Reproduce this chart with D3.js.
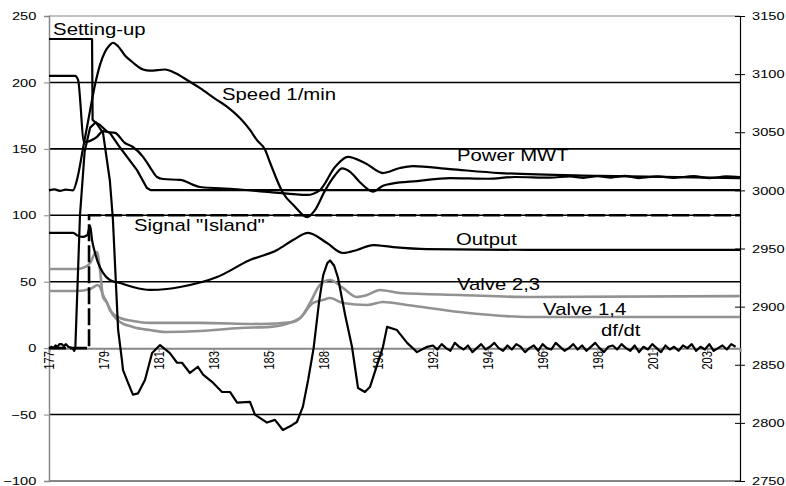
<!DOCTYPE html>
<html>
<head>
<meta charset="utf-8">
<script src="https://cdn.jsdelivr.net/npm/d3@7/dist/d3.min.js"></script>
<style>
  body { margin: 0; background: #fff; }
  svg { display: block; }
  text { font-family: "Liberation Sans", Arial, sans-serif; fill: #000; }
</style>
</head>
<body>
<svg id="chart" width="786" height="486"></svg>
<script>
// x axis is the sample number, a label every 20 samples
const xLabels = ["177", "179", "181", "183", "185", "188", "190", "192", "194", "196", "198", "201", "203"];
const leftTicks = [-100, -50, 0, 50, 100, 150, 200, 250];
const rightTicks = [2750, 2800, 2850, 2900, 2950, 3000, 3050, 3100, 3150];
const gridValues = [200, 150, 100, 50, -50];

// [sample, value] - left axis unless noted
const settingUp = [[0, 232.7], [15.7, 232.7], [15.9, 172], [16.8, 170], [18.6, 168], [21.2, 163],
  [22.2, 162], [25.9, 151], [32.1, 134], [35.7, 120.5], [37, 119], [252, 119]];

// right axis (1/min)
const speed = [[0, 3000], [2, 3000.8], [4, 2999.6], [6, 3000.6], [8.75, 3000], [10.2, 3009], [12.4, 3036],
  [15, 3069], [16.8, 3091], [18.6, 3108], [20.4, 3119], [22.2, 3125], [23.3, 3127], [25.2, 3124],
  [27.7, 3116], [30.6, 3110], [34.3, 3104], [36.8, 3103], [42.3, 3104], [46, 3101], [50.3, 3095],
  [55.1, 3088], [60.5, 3079], [64.9, 3072], [69.7, 3062], [73.3, 3052], [75.9, 3043], [78.8, 3035],
  [80.6, 3024], [85.3, 2998], [89.7, 2986], [94.1, 2977], [97, 2983], [100.7, 3000], [104.3, 3013],
  [106.9, 3019], [109.8, 3016], [113.4, 3007], [118.2, 2999], [121.8, 3004], [125.5, 3006],
  [134.2, 3008], [146.2, 3010.5], [160, 3010], [170, 3011.5], [182.7, 3011], [190, 3012],
  [195, 3010.8], [200, 3012.2], [205, 3011], [210, 3012.4], [215, 3010.6], [222, 3012], [228, 3010.8],
  [235, 3012.2], [241, 3010.6], [247, 3012], [252, 3011.5]];

const power = [[0, 205], [9.5, 205], [10.6, 202], [12.8, 155], [15, 156], [17.5, 159], [19.7, 163.4],
  [21.5, 162.7], [24.1, 162], [27.7, 154.4], [30.6, 151.4], [34.3, 144], [36.8, 136.3], [39.4, 128.8],
  [41.6, 127.3], [47.8, 126.6], [55.1, 121.3], [67.1, 119.8], [80.6, 117.5], [94.1, 115.3],
  [98.8, 119], [104.3, 136.3], [109, 144], [115.2, 139.4], [121.8, 131.8], [128, 135.6],
  [132.7, 137], [146.2, 134.8], [164.5, 131.8], [200.9, 129.6], [252, 128]];

const signalIsland = [[0, 0], [14.6, 0], [14.6, 100], [252, 100]];

const output = [[0, 86.7], [8.75, 86.7], [10.2, 85], [12, 83.7], [13.9, 85], [15, 92], [15.7, 81.4],
  [16.8, 71.6], [17.9, 64.1], [19.7, 56.6], [22.2, 51.3], [25.9, 49], [30.6, 46], [36.8, 43.8],
  [43, 44.5], [47.8, 46], [61.3, 53.5], [73.3, 66.3], [83.2, 73.9], [89, 81.4], [94.5, 86.7],
  [101.4, 79.1], [107.2, 71.6], [112.3, 73.9], [118.2, 77.6], [125.5, 76.1], [137.9, 74.6],
  [175.4, 73.9], [252, 73.9]];

const valve23 = [[0, 59.6], [10.2, 59.6], [13.1, 61], [15, 64], [16.8, 71.6], [17.5, 72.4], [18.6, 58.8],
  [19.7, 38.5], [21.2, 34], [22.2, 28.7], [25.9, 22.7], [30.6, 20.4], [36.8, 19], [55.1, 19],
  [77, 18.2], [89, 19.7], [92.6, 25], [95.2, 34], [98.8, 47.5], [102.5, 51.3], [107.2, 45.3],
  [112.3, 38.5], [116, 40], [120.7, 43.8], [128, 41.5], [149.9, 40], [175.4, 38.5], [252, 39.2]];

const valve14 = [[0, 43], [10.2, 43], [15, 44.5], [17.9, 47.5], [18.6, 46], [19.7, 40], [21.2, 34],
  [23.3, 25], [25.9, 19.7], [30.6, 16], [36.8, 13.6], [42.3, 12.2], [55.1, 12.9], [69.7, 15.2],
  [80.6, 16], [88.6, 19.7], [91.5, 22.7], [96.3, 34], [99.9, 36.2], [102.5, 37.7], [107.2, 34],
  [116, 32.5], [121.8, 34.7], [130.6, 32.5], [149.9, 27.2], [175.4, 23.4], [252, 23.4]];

const dfdt = [[0, 0], [1, 1], [1.6, 0], [2.4, 2], [3.1, 1], [3.8, 3], [4.6, 3], [5.4, 1.5], [6.2, 3],
  [7, 1], [7.8, 0.5], [8.6, 0], [9.2, -2], [9.6, 0], [11.3, 100], [13, 148], [15, 166], [17.1, 170],
  [19.7, 162], [22.2, 126], [23.3, 97], [25.2, 14], [26.6, -9], [27, -16.5], [28.8, -26], [30.6, -35],
  [32.5, -34], [35, -24], [37.6, -3.7], [40.5, 2.3], [44.1, -3.7], [46.7, -11], [48.5, -11],
  [51.4, -18.7], [54.3, -14], [56.2, -20], [59.8, -26], [63.1, -33], [66, -33], [68.6, -41],
  [73.3, -40.5], [75.1, -50], [79.5, -56], [82.4, -54], [85.3, -61.6], [88.6, -58], [90.4, -55.6],
  [92.6, -44], [94.5, -24], [96.5, 0], [98.5, 35], [100, 55], [101.5, 64], [102.5, 66], [104, 62],
  [105.4, 53], [108, 25], [110.5, 1], [112.7, -30], [115.2, -33], [117.1, -29], [121.8, 1],
  [123.3, 16], [126.9, 13.6], [130.6, 4], [134.2, -3], [137.9, 1]];
// noisy tail of df/dt, one value every 1.6 samples from sample 140
const dfdtTailStart = 140, dfdtTailStep = 1.6;
const dfdtTail = [2, -1, 3, 0, -2, 4, 1, -1, 2, -3, 0, 3, -1, 1, 4, 0, -2, 2, -1, 3, 1, -3, 0, 2, -2, 3, 0,
  -1, 4, 1, -2, 0, 3, -1, 2, -2, 1, 4, 0, -3, 1, 2, -1, 3, 0, -2, 2, -3, 1, -1, 3, 0, -3, 2, -1, 1, -2,
  2, 0, 3, -2, 1, -1, 3, -2, 0, 2, -1, 3, 1];

// label, sample, left-axis value
const annotations = [["Setting-up", 1.5, 235.7], ["Speed 1/min", 63.1, 186.8], ["Power MWT", 148.8, 140.9],
  ["Signal \"Island\"", 31, 88.2], ["Output", 148.4, 77.6], ["Valve 2,3", 148.8, 43.8],
  ["Valve 1,4", 180.2, 25], ["df/dt", 201.3, 9.4]];

const svg = d3.select("#chart");
const stretch = 1.27; // the original text is a bit wide

const x = d3.scaleLinear().domain([0, 252]).range([49, 740]);
const yL = d3.scaleLinear().domain([-100, 250]).range([481, 16]);
const yR = d3.scaleLinear().domain([2750, 3150]).range([481, 16]);
const axisGrey = "#868686";

// plot frame top and bottom
svg.append("line").attr("x1", x(0)).attr("x2", x(252)).attr("y1", yL(250)).attr("y2", yL(250))
  .attr("stroke", axisGrey).attr("stroke-width", 1);
svg.append("line").attr("x1", x(0)).attr("x2", x(252)).attr("y1", yL(-100)).attr("y2", yL(-100))
  .attr("stroke", axisGrey).attr("stroke-width", 2);

// gridlines
svg.append("g").selectAll("line").data(gridValues).join("line")
  .attr("x1", x(0)).attr("x2", x(252))
  .attr("y1", d => yL(d)).attr("y2", d => yL(d))
  .attr("stroke", "#000").attr("stroke-width", 1.6);

// left axis
const gl = svg.append("g").attr("transform", `translate(${x(0)},0)`)
  .call(d3.axisLeft(yL).tickValues(leftTicks).tickSize(5));
gl.select(".domain").attr("stroke", axisGrey).attr("stroke-width", 1.5);
gl.selectAll(".tick line").attr("stroke", axisGrey);
gl.selectAll(".tick text").attr("x", -10).attr("transform", `scale(${stretch},1)`)
  .style("font-size", "11.5px").attr("fill", "#000");

// right axis
const gr = svg.append("g").attr("transform", `translate(${x(252)},0)`)
  .call(d3.axisRight(yR).tickValues(rightTicks).tickFormat(d3.format("d")).tickSize(5));
gr.select(".domain").attr("stroke", "#000").attr("stroke-width", 1.2);
gr.selectAll(".tick line").attr("x1", -5).attr("stroke", "#000");
gr.selectAll(".tick text").attr("x", 9.5).attr("transform", `scale(${stretch},1)`)
  .style("font-size", "11.5px").attr("fill", "#000");

// category axis on the zero line
const gx = svg.append("g").attr("transform", `translate(0,${yL(0)})`)
  .call(d3.axisBottom(x).tickValues(d3.range(0, 241, 20)).tickFormat((d, i) => xLabels[i]).tickSize(4));
gx.select(".domain").attr("stroke", axisGrey).attr("stroke-width", 2);
gx.selectAll(".tick line").attr("stroke", axisGrey);
gx.selectAll(".tick text")
  .attr("x", 0).attr("y", 0).attr("dy", "0.35em")
  .attr("text-anchor", "end")
  .attr("transform", `translate(0,3) scale(${stretch},1) rotate(-90)`)
  .style("font-size", "11px").attr("fill", "#000");

const lineL = d3.line().x(d => x(d[0])).y(d => yL(d[1]));
const smoothL = d3.line().x(d => x(d[0])).y(d => yL(d[1])).curve(d3.curveMonotoneX);
const smoothR = d3.line().x(d => x(d[0])).y(d => yR(d[1])).curve(d3.curveMonotoneX);

const dfdtAll = dfdt.concat(dfdtTail.map((v, i) => [dfdtTailStart + i * dfdtTailStep, v]));

const grey = "#929292";
svg.append("path").datum(valve14).attr("d", smoothL).attr("fill", "none")
  .attr("stroke", grey).attr("stroke-width", 2.6);
svg.append("path").datum(valve23).attr("d", smoothL).attr("fill", "none")
  .attr("stroke", grey).attr("stroke-width", 2.6);

svg.append("path").datum(signalIsland).attr("d", lineL).attr("fill", "none")
  .attr("stroke", "#000").attr("stroke-width", 2.6).attr("stroke-dasharray", "17,4");

[[settingUp, lineL], [power, smoothL], [output, smoothL], [speed, smoothR], [dfdtAll, lineL]]
  .forEach(([data, gen]) => {
    svg.append("path").datum(data).attr("d", gen).attr("fill", "none")
      .attr("stroke", "#000").attr("stroke-width", 2.2).attr("stroke-linejoin", "round");
  });

svg.append("g").selectAll("text").data(annotations).join("text")
  .attr("transform", d => `translate(${x(d[1])},${yL(d[2])}) scale(${stretch},1)`)
  .style("font-size", "16px")
  .text(d => d[0]);
</script>
</body>
</html>
